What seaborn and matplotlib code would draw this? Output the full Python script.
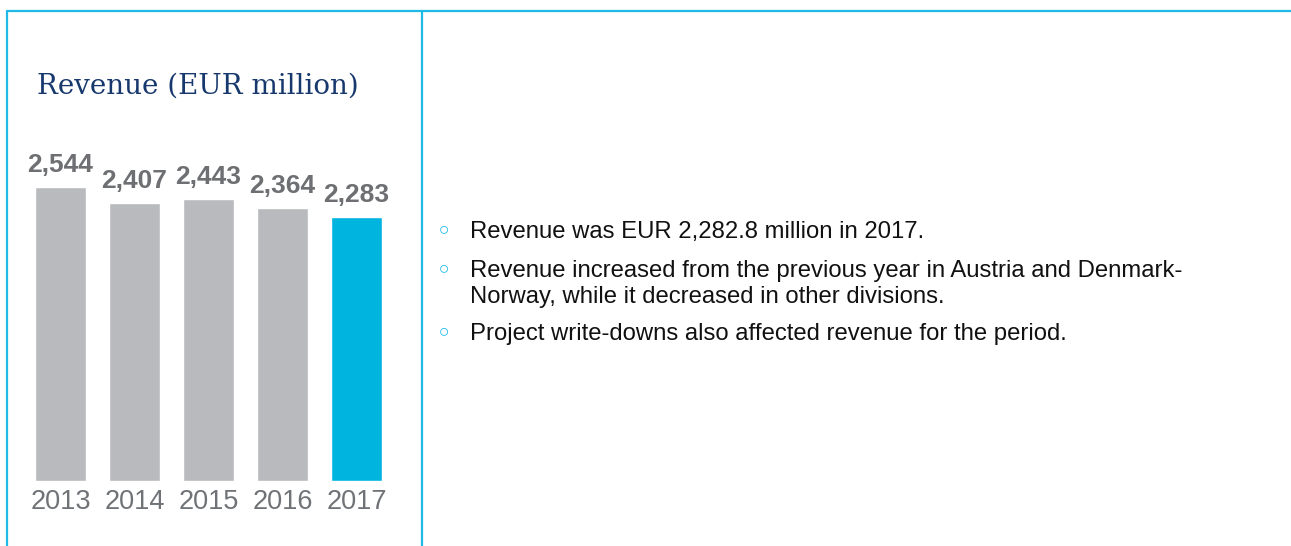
import matplotlib
matplotlib.use("Agg")
import matplotlib.pyplot as plt
import seaborn as sns
import pandas as pd
from matplotlib.lines import Line2D

# data
years = ["2013", "2014", "2015", "2016", "2017"]
revenue = [2544, 2407, 2443, 2364, 2283]
bar_colors = ["#b9babd", "#b9babd", "#b9babd", "#b9babd", "#00b4e0"]
title = "Revenue (EUR million)"
bullets = [
    ["Revenue was EUR 2,282.8 million in 2017."],
    ["Revenue increased from the previous year in Austria and Denmark-",
     "Norway, while it decreased in other divisions."],
    ["Project write-downs also affected revenue for the period."],
]

W, H = 1291, 546
sns.set_theme(style="white")
plt.rcParams["font.family"] = ["Liberation Sans", "DejaVu Sans"]

fig = plt.figure(figsize=(W / 100, H / 100), dpi=100)
fig.patch.set_facecolor("white")

def px(x, y):
    # pixel coords (top-left origin) -> figure fraction
    return x / W, 1 - y / H

# frame lines
border = "#1fbbe6"
for (x0, y0), (x1, y1) in [((7, 11), (W, 11)), ((7, 11), (7, H)), ((421.5, 11), (421.5, H))]:
    a, b = px(x0, y0)
    c, d = px(x1, y1)
    fig.add_artist(Line2D([a, c], [b, d], color=border, lw=1.6, transform=fig.transFigure))

# bar chart axes: 74 px per category, baseline at y=481
scale = 0.1156  # px per EUR million
ymax = 3000
ax_left, ax_w = 23.5, 370
ax_bottom = 481
ax_h = ymax * scale
ax = fig.add_axes([ax_left / W, 1 - ax_bottom / H, ax_w / W, ax_h / H])

df = pd.DataFrame({"year": years, "revenue": revenue})
sns.barplot(data=df, x="year", y="revenue", hue="year", palette=bar_colors,
            width=0.69, legend=False, ax=ax, saturation=1)
ax.set_xlim(-0.5, 4.5)
ax.set_ylim(0, ymax)
for cont in ax.containers:
    ax.bar_label(cont, labels=[f"{v:,.0f}" for v in cont.datavalues], padding=7,
                 fontsize=19, fontweight="bold", color="#6d6f72")
ax.set_xlabel("")
ax.set_ylabel("")
ax.set_yticks([])
ax.tick_params(axis="x", length=0, pad=6, labelsize=19.5, labelcolor="#6f7276")
sns.despine(ax=ax, left=True, bottom=True)
ax.patch.set_alpha(0)

# title
tx, ty = px(37, 94)
fig.text(tx, ty, title, fontsize=20, color="#17386d", family="DejaVu Serif",
         va="baseline", ha="left")

# bullet list (baselines in px)
baselines = [[238], [277, 303], [340]]
for lines, ys in zip(bullets, baselines):
    bx, by = px(444, ys[0] - 7)
    fig.text(bx, by, "\u25e6", fontsize=16, fontweight="bold", color="#1fbbe6",
             va="center", ha="center", family="DejaVu Sans")
    for txt, y in zip(lines, ys):
        lx, ly = px(470, y)
        fig.text(lx, ly, txt, fontsize=17.2, color="#111111", va="baseline", ha="left")

fig.savefig("out.png", dpi=100)
